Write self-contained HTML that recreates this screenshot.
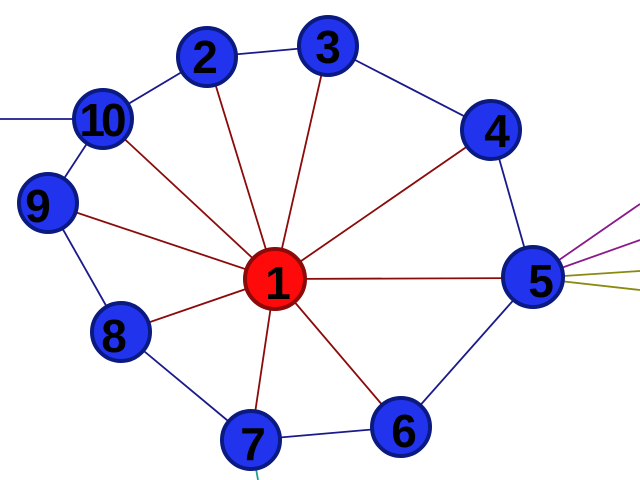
<html><body style="margin:0;width:640px;height:480px;overflow:hidden;background:#fff">
<svg width="640" height="480" xmlns="http://www.w3.org/2000/svg" style="position:absolute;left:0;top:0">
<g stroke-width="1.8">
<g stroke="#1a1a8a">
<line x1="0" y1="119" x2="103" y2="119"/>
<line x1="103" y1="119" x2="207" y2="57"/>
<line x1="207" y1="57" x2="328" y2="46"/>
<line x1="328" y1="46" x2="491" y2="130"/>
<line x1="491" y1="130" x2="533" y2="278"/>
<line x1="533" y1="278" x2="401" y2="427"/>
<line x1="401" y1="427" x2="251" y2="440"/>
<line x1="251" y1="440" x2="121" y2="332"/>
<line x1="121" y1="332" x2="48" y2="203"/>
<line x1="48" y1="203" x2="103" y2="119"/>
</g>
<g stroke="#8b0a0a">
<line x1="275" y1="279" x2="207" y2="57"/>
<line x1="275" y1="279" x2="328" y2="46"/>
<line x1="275" y1="279" x2="491" y2="130"/>
<line x1="275" y1="279" x2="533" y2="278"/>
<line x1="275" y1="279" x2="401" y2="427"/>
<line x1="275" y1="279" x2="251" y2="440"/>
<line x1="275" y1="279" x2="121" y2="332"/>
<line x1="275" y1="279" x2="48" y2="203"/>
<line x1="275" y1="279" x2="103" y2="119"/>
</g>
<line x1="533" y1="278" x2="640" y2="204" stroke="#8a1a8a"/>
<line x1="533" y1="278" x2="640" y2="240" stroke="#8a1a8a"/>
<line x1="533" y1="278" x2="640" y2="271" stroke="#8a8a10"/>
<line x1="533" y1="278" x2="640" y2="290" stroke="#8a8a10"/>
<line x1="251" y1="440" x2="258" y2="480" stroke="#20a090"/>
</g>
<g stroke="#0a1a80" stroke-width="4" fill="#2233ee">
<circle cx="207" cy="57" r="29"/><circle cx="328" cy="46" r="29"/>
<circle cx="491" cy="130" r="29"/><circle cx="533" cy="277" r="30"/>
<circle cx="401" cy="427" r="29"/><circle cx="251" cy="440" r="29"/>
<circle cx="121" cy="332" r="29"/><circle cx="48" cy="203" r="29"/>
<circle cx="103" cy="119" r="29"/>
<circle cx="275" cy="279" r="30" fill="#ff0a0a" stroke="#8b0a0a"/>
</g>
<g font-family="Liberation Sans, sans-serif" font-weight="bold" font-size="46" text-anchor="middle" fill="#000">
<text x="278" y="299">1</text><text x="205" y="73">2</text><text x="328" y="63">3</text>
<text x="497" y="147">4</text><text x="541" y="297">5</text><text x="404" y="447">6</text>
<text x="253" y="460">7</text><text x="114" y="352">8</text><text x="38" y="222">9</text>
<text x="101" y="136" letter-spacing="-4">10</text>
</g>
</svg>
</body></html>
